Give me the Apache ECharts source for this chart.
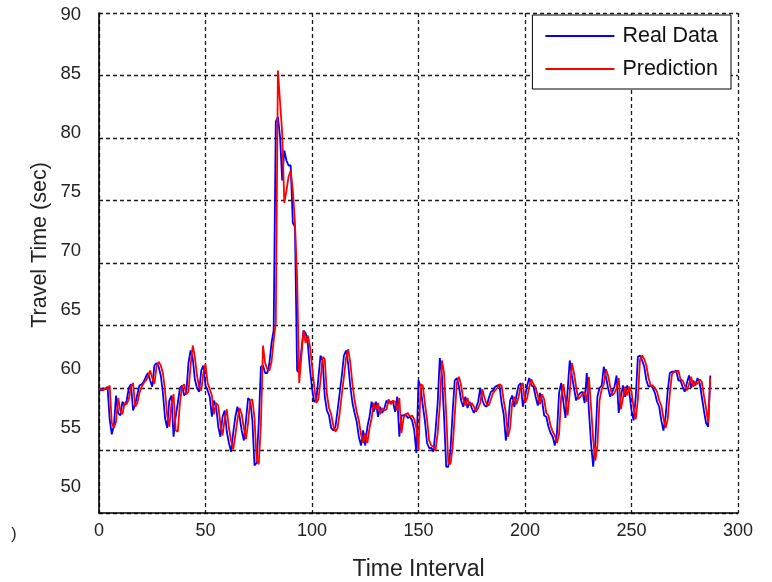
<!DOCTYPE html>
<html>
<head>
<meta charset="utf-8">
<script src="https://cdn.jsdelivr.net/npm/echarts@6/dist/echarts.min.js"></script>
<style>
  html, body { margin: 0; padding: 0; background: #fff; }
  #chart { width: 772px; height: 582px; }
</style>
</head>
<body>
<div id="chart"></div>
<script>
// Measured travel times per interval (sec)
const realData = [
  59.9, 59.8, 60.0, 59.9, 60.1, 57.5, 56.3, 57.0, 59.4, 58.0,
  57.8, 58.9, 58.6, 59.0, 60.0, 60.3, 58.2, 58.7, 59.5, 60.2,
  60.3, 60.5, 60.9, 61.2, 60.6, 60.1, 61.8, 62.0, 61.7, 61.0,
  59.6, 57.6, 56.8, 59.0, 59.4, 56.1, 57.7, 58.8, 60.0, 60.2,
  59.4, 59.6, 62.0, 63.0, 62.4, 60.7, 60.0, 59.7, 61.4, 61.8,
  60.2, 59.8, 59.3, 57.7, 59.0, 58.5, 56.9, 56.1, 57.7, 58.2,
  56.5, 55.6, 54.9, 56.4, 57.7, 58.5, 57.7, 56.6, 55.8, 57.4,
  59.2, 59.0, 57.4, 53.8, 54.0, 57.2, 61.7, 61.8, 61.2, 61.2,
  62.0, 63.6, 64.6, 81.3, 81.7, 80.1, 76.6, 79.0, 78.2, 77.8,
  77.8, 73.2, 72.9, 61.4, 61.2, 63.0, 64.6, 64.4, 63.6, 61.6,
  60.0, 58.9, 59.0, 60.8, 62.6, 62.2, 59.3, 58.2, 57.8, 56.8,
  56.6, 56.9, 58.2, 59.6, 61.0, 62.6, 63.0, 61.9, 60.1, 58.8,
  58.0, 57.3, 56.1, 55.4, 56.6, 55.4, 56.9, 57.7, 58.9, 58.1,
  58.9, 57.7, 58.5, 58.0, 58.4, 59.0, 58.8, 58.9, 58.9, 58.1,
  59.3, 56.1, 57.8, 57.8, 57.9, 57.6, 57.7, 57.4, 56.6, 54.8,
  60.6, 60.1, 58.6, 57.4, 55.6, 55.2, 55.2, 54.9, 56.6, 58.8,
  62.4, 61.0, 57.7, 53.7, 53.7, 55.0, 58.0, 60.6, 60.8, 60.1,
  59.0, 58.5, 59.3, 58.4, 58.9, 58.4, 58.0, 58.4, 58.9, 60.0,
  59.0, 58.6, 58.5, 59.2, 59.7, 59.8, 60.1, 60.2, 60.2, 58.8,
  57.9, 55.8, 56.9, 59.0, 59.4, 58.5, 59.4, 60.2, 60.4, 58.5,
  59.3, 60.2, 60.8, 60.2, 60.1, 59.3, 58.6, 59.6, 59.0, 57.8,
  57.7, 56.9, 56.4, 56.1, 55.4, 56.4, 59.6, 60.4, 58.9, 57.6,
  59.8, 62.2, 61.0, 60.0, 59.0, 59.4, 59.6, 59.7, 58.8, 61.2,
  58.2, 55.6, 53.7, 55.6, 59.3, 60.0, 60.2, 61.7, 60.9, 60.0,
  59.3, 59.7, 60.1, 61.0, 58.0, 59.3, 60.2, 59.3, 60.2, 59.6,
  58.2, 57.4, 59.3, 62.5, 62.6, 62.2, 61.7, 60.6, 60.1, 60.2,
  60.0, 59.6, 58.9, 58.5, 57.4, 56.6, 57.7, 59.8, 61.2, 61.3,
  61.3, 61.4, 60.6, 60.6, 60.1, 59.7, 60.4, 61.0, 60.0, 60.6,
  60.2, 60.8, 60.4, 59.3, 58.2, 57.2, 56.9, 61.0
];

// Predicted travel times per interval (sec)
const prediction = [
  59.9, 59.9, 59.8, 60.0, 59.9, 60.2, 57.2, 56.8, 57.3, 59.2,
  58.2, 57.9, 58.8, 58.7, 59.1, 60.1, 60.4, 58.5, 58.8, 59.6,
  60.1, 60.4, 60.6, 60.9, 61.4, 60.8, 60.3, 61.7, 62.1, 61.8,
  61.2, 59.8, 57.8, 56.9, 58.7, 59.5, 56.6, 56.5, 58.8, 60.1,
  60.3, 59.5, 59.7, 61.8, 63.4, 62.5, 61.0, 60.1, 59.8, 61.2,
  61.9, 60.4, 59.9, 59.4, 57.9, 58.8, 58.6, 57.1, 56.2, 57.5,
  58.3, 56.8, 55.8, 55.1, 56.2, 57.5, 58.4, 57.9, 56.8, 55.9,
  57.2, 59.0, 59.1, 57.6, 54.2, 53.9, 57.0, 63.4, 62.0, 61.5,
  61.4, 62.1, 63.8, 65.2, 85.4, 82.9, 80.4, 74.8, 75.8, 76.9,
  77.4, 75.8, 73.2, 68.9, 60.4, 62.5, 64.6, 63.6, 64.2, 63.4,
  61.8, 60.2, 58.8, 59.1, 60.6, 62.5, 62.3, 59.5, 58.4, 57.9,
  57.0, 56.5, 56.8, 58.0, 59.5, 60.9, 62.4, 63.1, 62.0, 60.3,
  59.0, 58.1, 57.4, 56.3, 55.6, 56.4, 55.6, 56.8, 57.6, 58.8,
  58.3, 58.8, 57.9, 58.4, 58.2, 58.3, 59.1, 58.7, 59.0, 58.9,
  58.2, 59.2, 56.4, 57.6, 57.9, 58.0, 57.7, 57.8, 57.5, 56.8,
  55.0, 60.3, 60.2, 58.8, 57.5, 55.8, 55.4, 55.3, 55.0, 56.4,
  58.6, 62.2, 61.2, 57.9, 54.0, 53.9, 55.2, 57.8, 60.4, 60.9,
  60.2, 59.1, 58.6, 59.2, 58.6, 58.8, 58.5, 58.1, 58.4, 58.8,
  59.9, 59.2, 58.7, 58.6, 59.1, 59.6, 59.8, 60.0, 60.3, 60.2,
  59.0, 58.0, 56.1, 56.8, 58.8, 59.3, 58.7, 59.3, 60.1, 60.4,
  58.8, 59.2, 60.1, 60.7, 60.3, 60.0, 59.4, 58.7, 59.5, 59.1,
  58.0, 57.8, 57.0, 56.5, 56.2, 55.6, 56.3, 59.3, 60.3, 59.1,
  57.8, 59.6, 62.0, 61.2, 60.1, 59.1, 59.3, 59.5, 59.7, 58.9,
  60.9, 58.5, 55.9, 54.2, 55.4, 59.0, 59.9, 60.3, 61.5, 61.0,
  60.1, 59.4, 59.6, 60.0, 60.8, 58.3, 59.2, 60.1, 59.4, 60.1,
  59.7, 58.4, 57.5, 59.1, 62.3, 62.6, 62.3, 61.8, 60.8, 60.2,
  60.2, 60.0, 59.7, 59.0, 58.6, 57.6, 56.8, 57.5, 59.6, 61.1,
  61.3, 61.3, 61.4, 60.7, 60.6, 60.2, 59.8, 60.3, 60.9, 60.1,
  60.5, 60.3, 60.7, 60.5, 59.4, 58.4, 57.2, 60.8
];

// Axis ranges and tick labels
const xTicks = [0, 50, 100, 150, 200, 250, 300];
const yTicks = [50, 55, 60, 65, 70, 75, 80, 85, 90];

const FONT = "'Liberation Sans', Arial, sans-serif";
const toPairs = arr => arr.map((v, i) => [i, v]);

const chart = echarts.init(document.getElementById('chart'), null, { renderer: 'canvas' });

const gridLine = { show: true, lineStyle: { color: '#1a1a1a', width: 1.3, type: [4, 3] } };

chart.setOption({
  animation: false,
  backgroundColor: '#fff',
  grid: [
    { left: 99, top: 13, right: 34, bottom: 69, outerBoundsMode: 'none', containLabel: false },
    // label strip for the travel-time tick values
    { left: 99, top: 15, right: 34, bottom: 95, outerBoundsMode: 'none', containLabel: false }
  ],
  xAxis: [
    {
      type: 'value', gridIndex: 0,
      min: xTicks[0], max: xTicks[xTicks.length - 1], interval: 50,
      name: 'Time Interval', nameLocation: 'middle', nameGap: 45,
      nameTextStyle: { fontFamily: FONT, fontSize: 23, color: '#222' },
      axisLine: { show: true, onZero: false, lineStyle: { color: '#000', width: 1.6 } },
      axisTick: { show: false },
      axisLabel: { fontFamily: FONT, fontSize: 18, color: '#222', margin: 9 },
      splitLine: gridLine
    },
    { type: 'value', gridIndex: 1, show: false, min: 0, max: 300 }
  ],
  yAxis: [
    {
      type: 'value', gridIndex: 0,
      min: yTicks[0], max: yTicks[yTicks.length - 1], interval: 5,
      axisLine: { show: true, onZero: false, lineStyle: { color: '#000', width: 1.6 } },
      axisTick: { show: false },
      axisLabel: { show: false },
      splitLine: gridLine
    },
    {
      type: 'value', gridIndex: 1,
      min: yTicks[0], max: yTicks[yTicks.length - 1], interval: 5,
      axisLine: { show: false },
      axisTick: { show: false },
      splitLine: { show: false },
      axisLabel: { fontFamily: FONT, fontSize: 18.5, color: '#222', margin: 18 }
    }
  ],
  legend: {
    orient: 'vertical',
    right: 41, top: 15,
    padding: [10, 13, 9, 13],
    itemGap: 11,
    itemWidth: 69, itemHeight: 2,
    icon: 'rect',
    backgroundColor: '#fff',
    borderColor: '#000', borderWidth: 1, borderRadius: 0,
    textStyle: { fontFamily: FONT, fontSize: 21.5, color: '#111', padding: [0, 0, 0, 3] },
    data: ['Real Data', 'Prediction']
  },
  graphic: [
    {
      type: 'text', x: 40, y: 245, rotation: Math.PI / 2,
      style: { text: 'Travel Time (sec)', font: '21.5px ' + FONT, fill: '#222', textAlign: 'center', textVerticalAlign: 'middle' }
    },
    {
      type: 'text', x: 14, y: 535,
      style: { text: ')', font: '16px ' + FONT, fill: '#222', textAlign: 'center', textVerticalAlign: 'middle' }
    }
  ],
  series: [
    {
      name: 'Real Data', type: 'line', xAxisIndex: 0, yAxisIndex: 0,
      data: toPairs(realData), showSymbol: false, symbol: 'none',
      lineStyle: { color: '#0000ff', width: 1.8 }, itemStyle: { color: '#0000ff' }
    },
    {
      name: 'Prediction', type: 'line', xAxisIndex: 0, yAxisIndex: 0,
      data: toPairs(prediction), showSymbol: false, symbol: 'none',
      lineStyle: { color: '#ff0000', width: 1.8 }, itemStyle: { color: '#ff0000' }
    }
  ]
});
</script>
</body>
</html>
